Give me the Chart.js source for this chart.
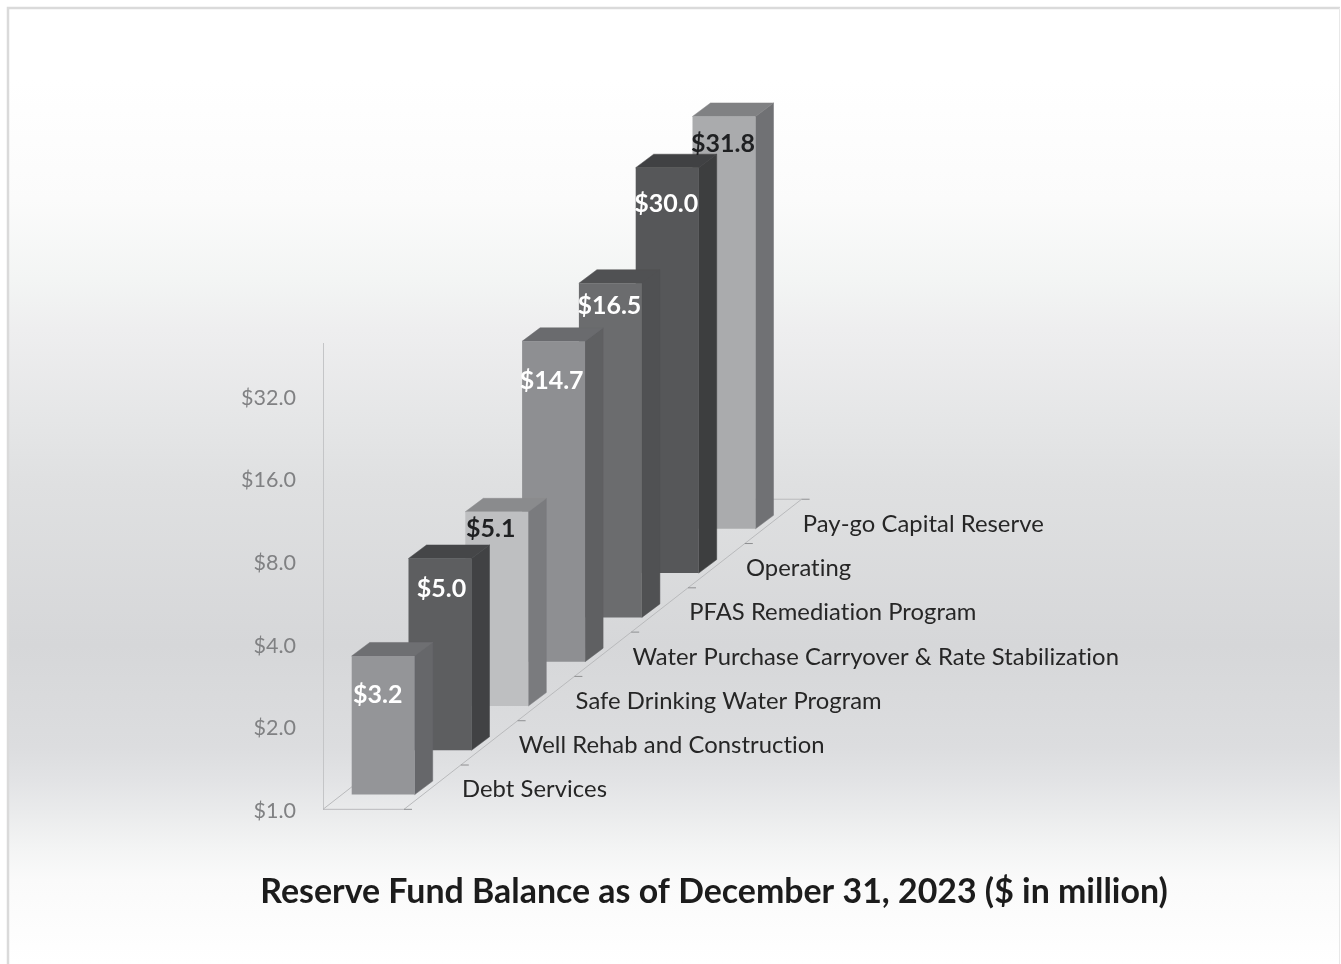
<!DOCTYPE html>
<html>
<head>
<meta charset="utf-8">
<title>Reserve Fund Balance</title>
<script src="https://cdn.jsdelivr.net/npm/chart.js@4"></script>
<style>
    html, body { margin: 0; padding: 0; background: #ffffff; }
    canvas { display: block; }
</style>
</head>
<body>
<canvas id="chart" width="1341" height="964"></canvas>
<script>
const categories = [
    'Debt Services',
    'Well Rehab and Construction',
    'Safe Drinking Water Program',
    'Water Purchase Carryover & Rate Stabilization',
    'PFAS Remediation Program',
    'Operating',
    'Pay-go Capital Reserve',
];
const balances = [3.2, 5.0, 5.1, 14.7, 16.5, 30.0, 31.8];
const axisTicks = [1, 2, 4, 8, 16, 32];
const axisMax = 50;

const frontColors = ['#949598', '#5d5e60', '#bebfc1', '#8e8f92', '#6b6c6e', '#565759', '#aaabad'];
const sideColors = ['#66676a', '#414244', '#7a7b7e', '#5f6062', '#505153', '#3d3e3f', '#707174'];
const topColors = ['#6e6f72', '#454648', '#8a8b8d', '#6a6b6e', '#505153', '#404143', '#808183'];
const labelColors = ['#ffffff', '#ffffff', '#1f2022', '#ffffff', '#ffffff', '#ffffff', '#1f2022'];

// where each value label sits relative to the top-centre of its bar
const labelNudgeX = [-5.5, 1.5, -6, -2, -1, -1, -1];
const labelNudgeY = [39, 30, 17, 40, 23, 36, 27];

const rowStepX = 56.8;   // one category further back moves this far right...
const rowStepY = 44.3;   // ...and this far up
const floorWidth = 81;
const barInsetX = 60.2;
const barInsetY = 14.7;
const barThick = 63;
const barDepthX = 18;
const barDepthY = 13.5;

const labelFont = 'Lato, "Open Sans", sans-serif';

function polygon(ctx, points, color) {
    ctx.beginPath();
    ctx.moveTo(points[0][0], points[0][1]);
    for (let i = 1; i < points.length; i++) {
        ctx.lineTo(points[i][0], points[i][1]);
    }
    ctx.closePath();
    ctx.fillStyle = color;
    ctx.fill();
    // thin stroke hides the seams between faces
    ctx.strokeStyle = color;
    ctx.lineWidth = 0.5;
    ctx.stroke();
}

function line(ctx, x1, y1, x2, y2) {
    ctx.beginPath();
    ctx.moveTo(x1, y1);
    ctx.lineTo(x2, y2);
    ctx.stroke();
}

const depthBars = {
    id: 'depthBars',

    // push every bar back along the floor, one row per category
    afterDatasetsUpdate(chart) {
        const area = chart.chartArea;
        chart.getDatasetMeta(0).data.forEach((bar, i) => {
            const lift = barInsetY + i * rowStepY;
            bar.x = area.left + barInsetX + i * rowStepX;
            bar.y -= lift;
            bar.base = area.bottom - lift;
        });
    },

    beforeDraw(chart) {
        const ctx = chart.ctx;
        const gradient = ctx.createLinearGradient(0, 0, 0, chart.height);
        gradient.addColorStop(0, '#ffffff');
        gradient.addColorStop(0.083, '#ffffff');
        gradient.addColorStop(0.207, '#fbfbfb');
        gradient.addColorStop(0.29, '#f3f5f4');
        gradient.addColorStop(0.342, '#eeeeef');
        gradient.addColorStop(0.436, '#e5e6e7');
        gradient.addColorStop(0.502, '#dfe0e1');
        gradient.addColorStop(0.669, '#d6d7d9');
        gradient.addColorStop(0.775, '#dcdddf');
        gradient.addColorStop(0.809, '#e2e3e5');
        gradient.addColorStop(0.843, '#eaebec');
        gradient.addColorStop(0.879, '#f3f4f4');
        gradient.addColorStop(0.913, '#fafafa');
        gradient.addColorStop(0.965, '#fdfdfd');
        gradient.addColorStop(1, '#ffffff');
        ctx.save();
        ctx.fillStyle = '#ffffff';
        ctx.fillRect(0, 0, chart.width, chart.height);
        ctx.fillStyle = gradient;
        ctx.fillRect(8, 8, chart.width - 9, chart.height - 8);
        ctx.lineWidth = 2.5;
        ctx.strokeStyle = '#dadada';
        ctx.beginPath();
        ctx.moveTo(8, chart.height);
        ctx.lineTo(8, 8);
        ctx.lineTo(chart.width - 1, 8);
        ctx.stroke();
        ctx.lineWidth = 1;
        ctx.strokeStyle = '#e8e8e8';
        line(ctx, chart.width - 1.5, 8, chart.width - 1.5, chart.height);
        ctx.restore();
    },

    beforeDatasetsDraw(chart) {
        const ctx = chart.ctx;
        const area = chart.chartArea;
        const left = area.left;
        const bottom = area.bottom;
        const rows = categories.length;
        const backX = rows * rowStepX;
        const backY = rows * rowStepY;

        ctx.save();

        // value axis labels, set a touch below the tick position
        const yScale = chart.scales.y;
        ctx.fillStyle = '#808183';
        ctx.font = '21.5px ' + labelFont;
        ctx.textAlign = 'right';
        ctx.textBaseline = 'middle';
        yScale.ticks.forEach((tick) => {
            ctx.fillText(tick.label, left - 27, yScale.getPixelForValue(tick.value) + 1.5);
        });

        // floor outline and the tick at each row boundary
        ctx.strokeStyle = '#b9babc';
        ctx.lineWidth = 1;
        line(ctx, left, bottom, left + floorWidth, bottom);
        line(ctx, left, bottom, left + backX, bottom - backY);
        line(ctx, left + floorWidth, bottom, left + floorWidth + backX, bottom - backY);
        line(ctx, left + backX, bottom - backY, left + floorWidth + backX, bottom - backY);
        ctx.strokeStyle = '#8f9092';
        for (let i = 0; i <= rows; i++) {
            const tx = left + floorWidth + i * rowStepX;
            const ty = bottom - i * rowStepY;
            line(ctx, tx, ty, tx + 8, ty);
        }

        // categories sit on the floor to the right of each tick
        ctx.fillStyle = '#262626';
        ctx.font = '23.8px ' + labelFont;
        ctx.letterSpacing = '0.05px';   // also switches off the Lato "ti" ligature
        ctx.textAlign = 'left';
        ctx.textBaseline = 'middle';
        categories.forEach((name, i) => {
            ctx.fillText(name, left + floorWidth + 58 + i * rowStepX, bottom - 19.5 - i * rowStepY);
        });
        ctx.letterSpacing = '0px';

        // rear rows first so nearer bars cover them
        const bars = chart.getDatasetMeta(0).data;
        for (let i = bars.length - 1; i >= 0; i--) {
            const bar = bars[i];
            const x0 = bar.x - barThick / 2;
            const x1 = bar.x + barThick / 2;
            polygon(ctx, [
                [x1, bar.y],
                [x1 + barDepthX, bar.y - barDepthY],
                [x1 + barDepthX, bar.base - barDepthY],
                [x1, bar.base],
            ], sideColors[i]);
            polygon(ctx, [
                [x0, bar.y],
                [x0 + barDepthX, bar.y - barDepthY],
                [x1 + barDepthX, bar.y - barDepthY],
                [x1, bar.y],
            ], topColors[i]);
            bar.draw(ctx);
        }

        ctx.restore();
    },

    // the bars are already painted above, back to front
    beforeDatasetDraw() {
        return false;
    },

    afterDatasetsDraw(chart) {
        const ctx = chart.ctx;
        ctx.save();
        ctx.font = 'bold 25px ' + labelFont;
        ctx.textAlign = 'center';
        ctx.textBaseline = 'middle';
        chart.getDatasetMeta(0).data.forEach((bar, i) => {
            ctx.fillStyle = labelColors[i];
            ctx.fillText('$' + balances[i].toFixed(1), bar.x + labelNudgeX[i], bar.y + labelNudgeY[i]);
        });
        ctx.restore();
    },
};

const chart = new Chart(document.getElementById('chart'), {
    type: 'bar',
    data: {
        labels: categories,
        datasets: [
            {
                data: balances,
                backgroundColor: frontColors,
                barThickness: barThick,
                inflateAmount: 0,
            },
        ],
    },
    options: {
        responsive: false,
        animation: false,
        layout: {
            padding: { left: 87, right: 0, top: 343, bottom: 52 },
        },
        plugins: {
            legend: { display: false },
            tooltip: { enabled: false },
            title: {
                display: true,
                position: 'bottom',
                text: 'Reserve Fund Balance as of December 31, 2023 ($ in million)',
                color: '#1c1c1c',
                font: { family: labelFont, size: 33.9, weight: 'bold' },
                padding: { top: 62, bottom: 0 },
            },
        },
        scales: {
            x: { display: false },
            y: {
                type: 'logarithmic',
                min: axisTicks[0],
                max: axisMax,
                grid: { display: false, drawTicks: false },
                border: { display: true, color: '#c4c5c7', width: 1 },
                afterBuildTicks(scale) {
                    scale.ticks = axisTicks.map((value) => ({ value }));
                },
                afterFit(scale) {
                    scale.width = 236;
                },
                ticks: {
                    display: false,
                    autoSkip: false,
                    callback: (value) => '$' + Number(value).toFixed(1),
                },
            },
        },
    },
    plugins: [depthBars],
});
</script>
</body>
</html>
